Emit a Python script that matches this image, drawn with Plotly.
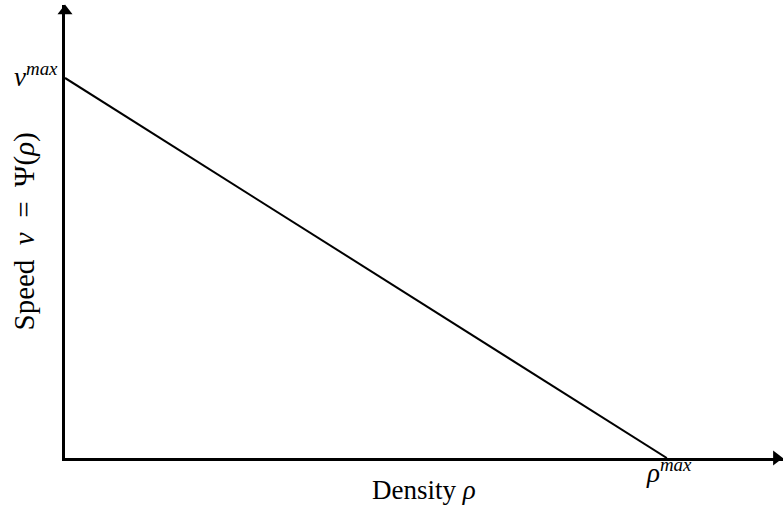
import plotly.graph_objects as go

# data: linear speed-density relation
densidade = [0.0, 1.0]
velocidade = [1.0, 0.0]
rotulo_x = "Density <i>ρ</i>"
rotulo_y = "Speed\u2002<i>v</i>\u2002=\u2002Ψ(<i>ρ</i>)"
rotulo_vmax = "<i>v</i><sup><i>max</i></sup>"
rotulo_rhomax = "<i>ρ</i><sup><i>max</i></sup>"

x_fim = 1.193
y_fim = 1.192
fonte = "Liberation Serif"

fig = go.Figure(go.Scatter(x=densidade, y=velocidade, mode="lines",
                           line=dict(color="black", width=2),
                           hoverinfo="skip"))

# arrow heads at the end of each axis
fig.add_trace(go.Scatter(x=[x_fim - 0.011, 0], y=[0, y_fim - 0.016],
                         mode="markers", cliponaxis=False, hoverinfo="skip",
                         marker=dict(symbol=["triangle-right", "triangle-up"],
                                     size=13, color="black")))

fig.add_annotation(x=0, y=velocidade[0], text=rotulo_vmax, showarrow=False,
                   xanchor="right", yanchor="middle", xshift=-5, yshift=3,
                   font=dict(family=fonte, size=27, color="black"))
fig.add_annotation(x=densidade[1], y=0, text=rotulo_rhomax, showarrow=False,
                   xanchor="center", yanchor="top", yshift=6, xshift=2,
                   font=dict(family=fonte, size=27, color="black"))

# axis titles
fig.add_annotation(x=0.5, y=0, xref="paper", yref="paper", text=rotulo_x,
                   showarrow=False, xanchor="center", yanchor="middle",
                   yshift=-32, font=dict(family=fonte, size=27, color="black"))
fig.add_annotation(x=0, y=0.5, xref="paper", yref="paper", text=rotulo_y,
                   showarrow=False, xanchor="center", yanchor="middle",
                   textangle=-90, xshift=-41,
                   font=dict(family=fonte, size=29, color="black"))

fig.update_layout(width=784, height=513, margin=dict(l=65, r=1, t=5, b=55),
                  showlegend=False, plot_bgcolor="white", paper_bgcolor="white",
                  font=dict(family=fonte, size=27, color="black"))

fig.update_xaxes(range=[0, x_fim], showgrid=False, zeroline=False,
                 showticklabels=False, ticks="", automargin=False,
                 showline=True, linecolor="black", linewidth=3)
fig.update_yaxes(range=[0, y_fim], showgrid=False, zeroline=False,
                 showticklabels=False, ticks="", automargin=False,
                 showline=True, linecolor="black", linewidth=3)

fig.write_html("out.html", config={"displayModeBar": False},
               post_script="document.body.style.margin='0';")
